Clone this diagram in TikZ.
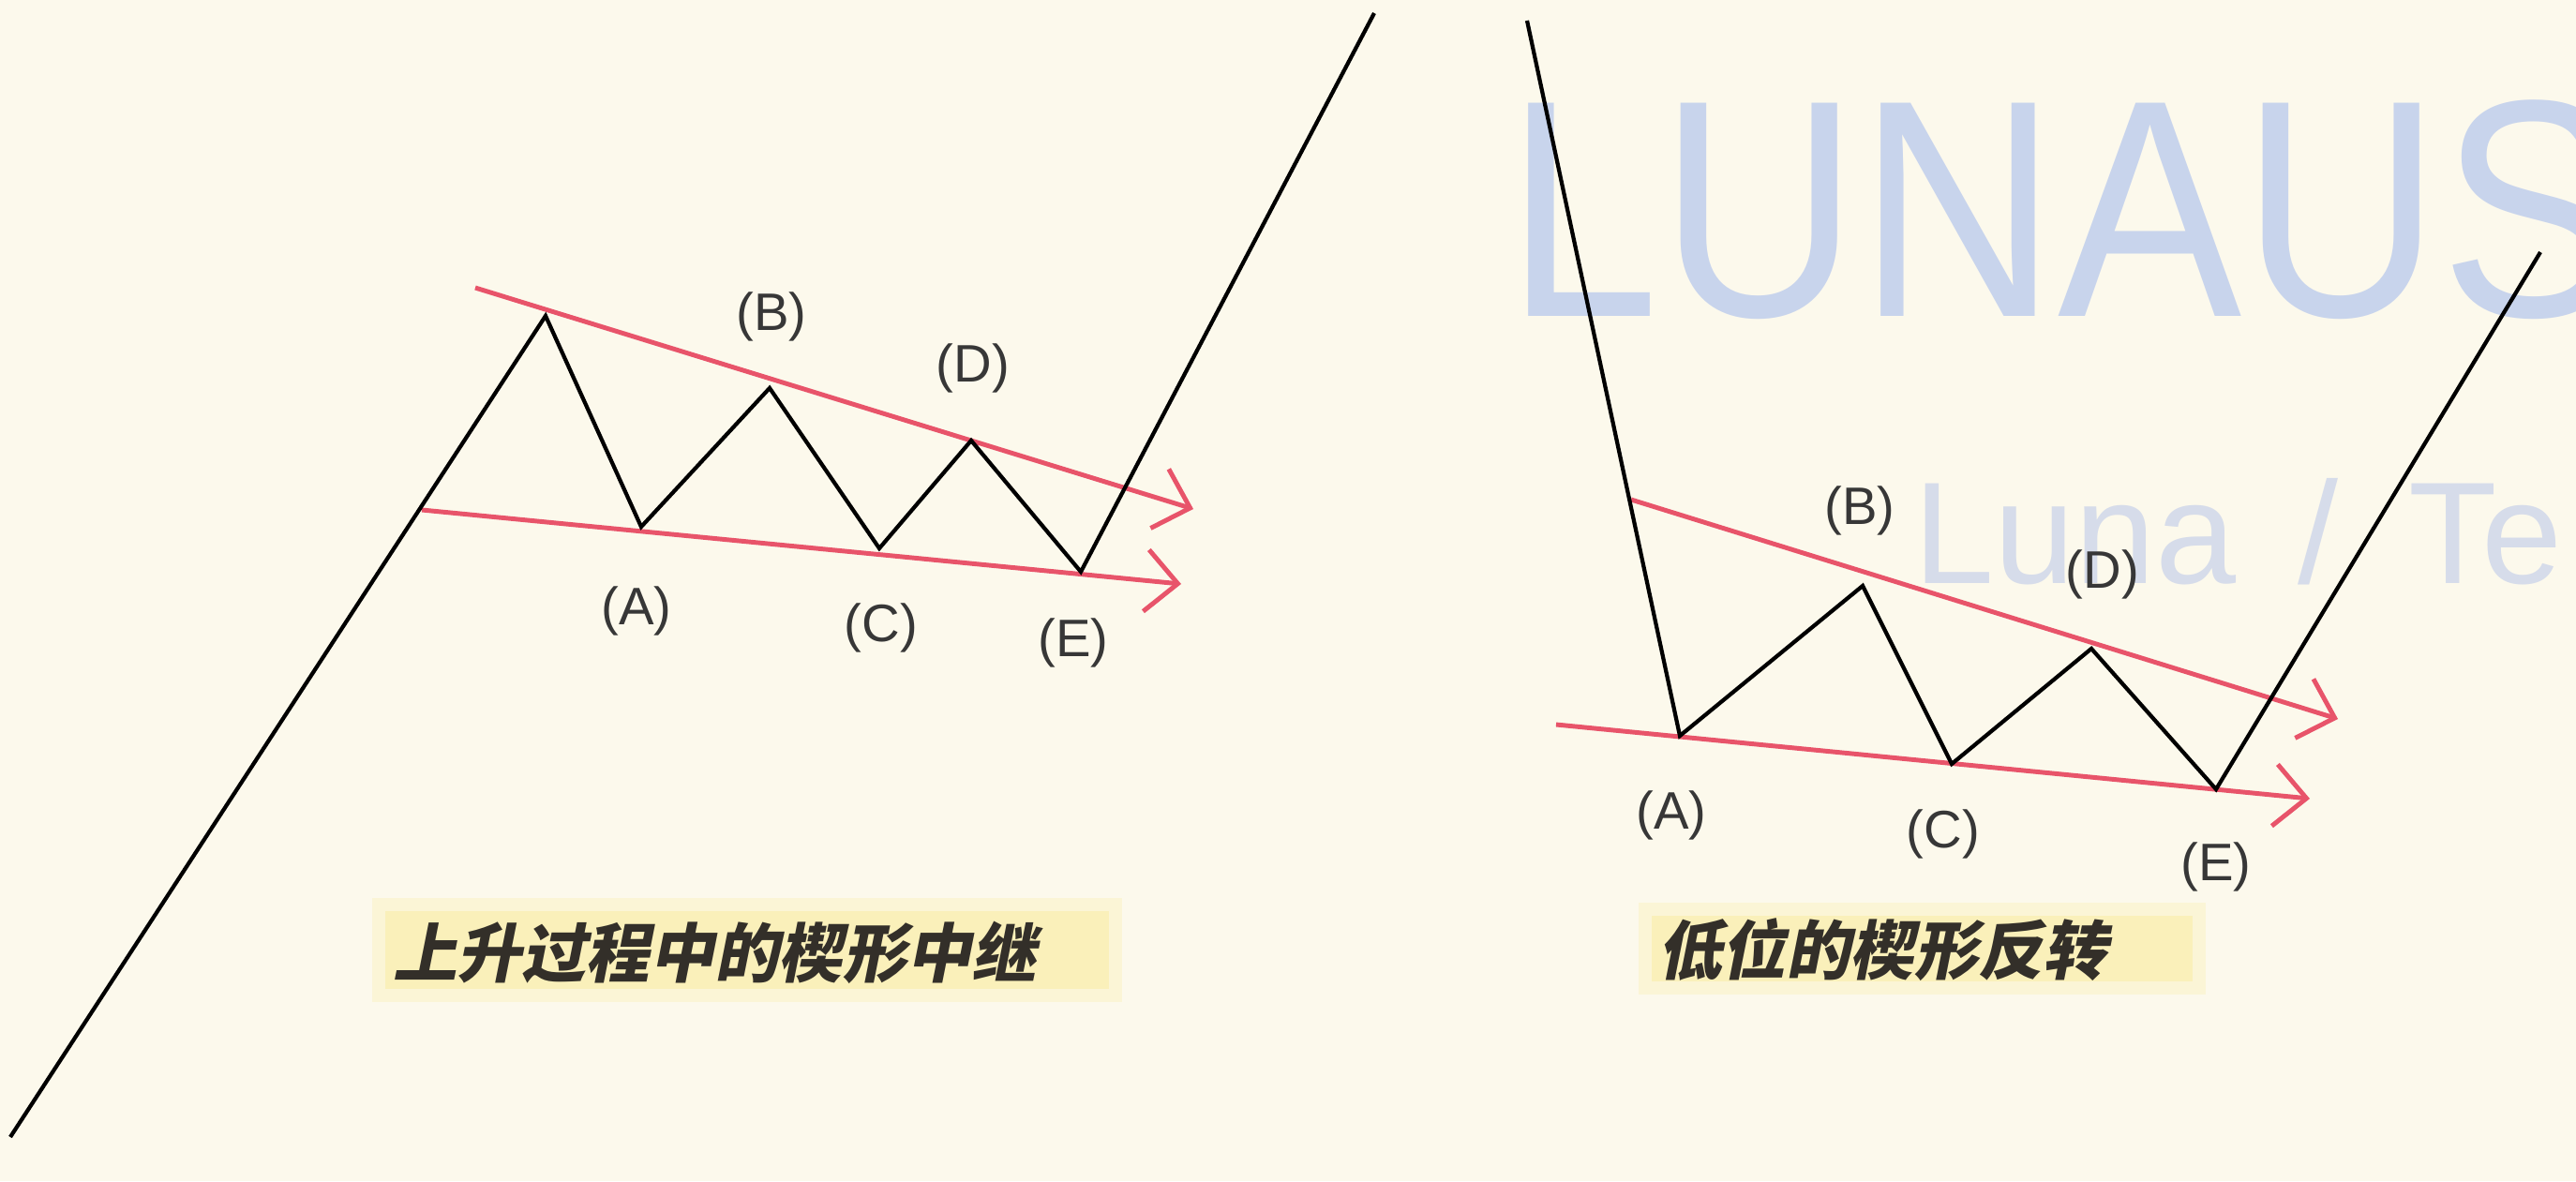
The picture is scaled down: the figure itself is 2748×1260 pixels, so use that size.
\documentclass[tikz,border=0pt]{standalone}
\usepackage{fontspec}
\setmainfont{Liberation Sans}
\newfontfamily\cjk{Noto Sans CJK SC}[FakeSlant=0.2]
\usetikzlibrary{arrows.meta}
\definecolor{bg}{RGB}{252,249,236}
\definecolor{wedge}{RGB}{232,84,106}
\definecolor{hl}{RGB}{250,240,186}
\definecolor{hlsoft}{RGB}{251,245,214}
\definecolor{wm}{RGB}{200,212,236}
\definecolor{wmsoft}{RGB}{214,220,234}
\definecolor{lbl}{RGB}{55,55,55}
\begin{document}
\begin{tikzpicture}[x=0.01cm,y=-0.01cm,
  price/.style={line width=1.2pt, black, line join=miter},
  trend/.style={line width=1.4pt, wedge, -{Straight Barb[length=0.34cm,width=0.66cm]}},
  ptlabel/.style={font=\fontsize{16}{18}\selectfont, text=lbl, inner sep=0pt},
  caption/.style={font=\cjk\bfseries\fontsize{19.5}{22}\selectfont, text=black!85!olive, inner sep=0pt},
  hlbox/.style={fill=hl, draw=hlsoft, line width=4pt},
]
\fill[bg] (0,0) rectangle (2748,1260);
\useasboundingbox (0,0) rectangle (2748,1260);
\begin{scope}
\clip (0,0) rectangle (2748,1260);
\node[anchor=base west, inner sep=0pt, text=wm, font=\fontsize{94}{94}\selectfont] (wm1) at (1606,337) {\scalebox{0.89}[1]{LUNAUS}};
\node[anchor=base west, inner sep=0pt, text=wmsoft, font=\fontsize{44}{44}\selectfont] (wm2) at (2041,622) {Luna\hspace{0.66cm}/\hspace{0.75cm}Te};
\end{scope}

% left: wedge continuation in uptrend
\coordinate (L0) at (11,1213);
\coordinate (Lp) at (582,337);
\coordinate (LA) at (684,562);
\coordinate (LB) at (821,414);
\coordinate (LC) at (938,585);
\coordinate (LD) at (1036,470);
\coordinate (LE) at (1153,610);
\coordinate (L1) at (1466,14);
\coordinate (LU0) at (507,307);
\coordinate (LU1) at (1273,543);
\coordinate (LL0) at (450,544);
\coordinate (LL1) at (1260,623);
\draw[trend] (LU0) -- (LU1);
\draw[trend] (LL0) -- (LL1);
\draw[price] (L0) -- (Lp) -- (LA) -- (LB) -- (LC) -- (LD) -- (LE) -- (L1);
\node[ptlabel] (lA) at (679,652) {(A)};
\node[ptlabel] (lB) at (823,338) {(B)};
\node[ptlabel] (lC) at (940,670) {(C)};
\node[ptlabel] (lD) at (1038,393) {(D)};
\node[ptlabel] (lE) at (1145,686) {(E)};
\fill[hlbox] (404,965) rectangle (1190,1062);
\node[caption] (capL) at (762,1016) {上升过程中的楔形中继};

% right: wedge reversal at low level
\coordinate (R0) at (1629,22);
\coordinate (RA) at (1792,785);
\coordinate (RB) at (1987,625);
\coordinate (RC) at (2082,815);
\coordinate (RD) at (2231,692);
\coordinate (RE) at (2364,842);
\coordinate (R1) at (2710,269);
\coordinate (RU0) at (1740,533);
\coordinate (RU1) at (2494,767);
\coordinate (RL0) at (1660,773);
\coordinate (RL1) at (2464,852);
\draw[trend] (RU0) -- (RU1);
\draw[trend] (RL0) -- (RL1);
\draw[price] (R0) -- (RA) -- (RB) -- (RC) -- (RD) -- (RE) -- (R1);
\node[ptlabel] (rA) at (1783,870) {(A)};
\node[ptlabel] (rB) at (1984,545) {(B)};
\node[ptlabel] (rC) at (2073,890) {(C)};
\node[ptlabel] (rD) at (2243,613) {(D)};
\node[ptlabel] (rE) at (2364,925) {(E)};
\fill[hlbox] (1755,970) rectangle (2346,1054);
\node[caption] (capR) at (2008,1013) {低位的楔形反转};
\end{tikzpicture}
\end{document}
